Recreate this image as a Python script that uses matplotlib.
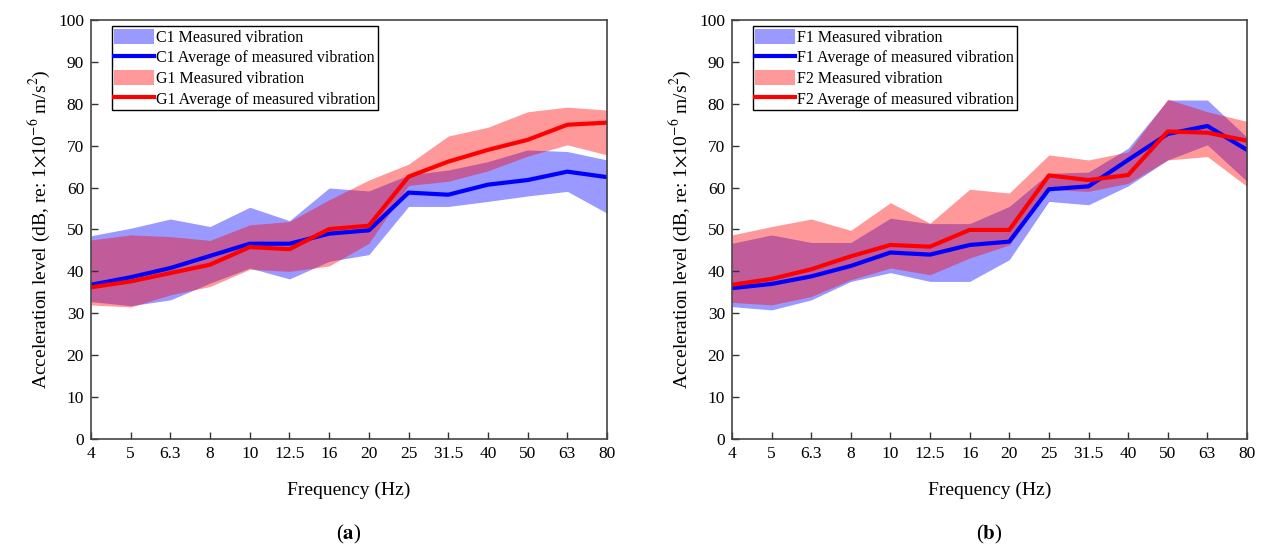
import matplotlib
matplotlib.use("Agg")
import matplotlib.pyplot as plt
import numpy as np

plt.rcParams["font.family"] = ["Liberation Serif", "DejaVu Serif"]
plt.rcParams["mathtext.fontset"] = "stix"


# -----------------------------
# DATA
# -----------------------------

freq_labels = ["4", "5", "6.3", "8", "10", "12.5", "16", "20",
               "25", "31.5", "40", "50", "63", "80"]

# (a) C1 / G1
c1_upper = [48.5, 50.3, 52.5, 50.7, 55.3, 52.1, 59.9, 59.2,
            63.0, 64.2, 66.2, 69.0, 68.6, 66.6]
c1_lower = [32.8, 31.8, 33.2, 37.2, 40.8, 38.2, 42.4, 44.0,
            55.5, 55.5, 56.7, 58.0, 59.1, 53.9]
c1_avg = [36.8, 38.6, 40.8, 43.7, 46.6, 46.6, 49.0, 49.8,
          58.8, 58.3, 60.7, 61.8, 63.8, 62.5]

g1_upper = [47.5, 48.7, 48.3, 47.4, 51.1, 51.9, 57.1, 61.8,
            65.6, 72.3, 74.4, 78.1, 79.2, 78.5]
g1_lower = [32.0, 31.5, 34.4, 36.4, 40.5, 40.0, 41.3, 46.7,
            60.5, 61.5, 64.0, 67.5, 70.2, 67.8]
g1_avg = [36.2, 37.6, 39.6, 41.6, 45.8, 45.3, 50.1, 50.9,
          62.6, 66.2, 69.0, 71.4, 75.0, 75.5]

# (b) F1 / F2
f1_upper = [46.7, 48.7, 46.9, 46.9, 52.7, 51.4, 51.4, 55.5,
            63.4, 63.7, 69.4, 80.9, 80.9, 72.0]
f1_lower = [31.6, 30.8, 33.2, 37.6, 39.7, 37.6, 37.6, 42.8,
            56.7, 55.9, 60.4, 66.6, 70.2, 61.5]
f1_avg = [36.0, 37.0, 38.8, 41.3, 44.5, 44.0, 46.3, 47.1,
          59.6, 60.3, 66.6, 72.8, 74.7, 69.0]

f2_upper = [48.7, 50.7, 52.5, 49.8, 56.4, 51.5, 59.6, 58.7,
            67.8, 66.6, 68.5, 81.1, 78.1, 75.8]
f2_lower = [32.6, 32.0, 34.0, 38.0, 40.8, 39.2, 43.2, 46.3,
            59.5, 59.1, 61.0, 66.6, 67.4, 60.3]
f2_avg = [36.8, 38.2, 40.5, 43.6, 46.3, 45.9, 49.9, 49.9,
          62.9, 61.8, 63.0, 73.4, 73.1, 71.2]


# -----------------------------
# FIGURE
# -----------------------------

fig = plt.figure(figsize=(12.62, 5.49), dpi=100)

ax_a = fig.add_axes([0.0721, 0.2004, 0.4089, 0.7632])
ax_b = fig.add_axes([0.5800, 0.2004, 0.4081, 0.7632])

x = np.arange(len(freq_labels))

panels = [
    (ax_a, "C1", "G1", c1_upper, c1_lower, c1_avg, g1_upper, g1_lower, g1_avg, "a"),
    (ax_b, "F1", "F2", f1_upper, f1_lower, f1_avg, f2_upper, f2_lower, f2_avg, "b"),
]

for ax, n1, n2, u1, l1, a1, u2, l2, a2, tag in panels:

    ax.fill_between(x, l1, u1, color="blue", alpha=0.4, linewidth=0,
                    label=n1 + " Measured vibration")
    ax.plot(x, a1, color="blue", linewidth=3,
            label=n1 + " Average of measured vibration")
    ax.fill_between(x, l2, u2, color="red", alpha=0.4, linewidth=0,
                    label=n2 + " Measured vibration")
    ax.plot(x, a2, color="red", linewidth=3,
            label=n2 + " Average of measured vibration")

    ax.set_xlim(0, len(freq_labels) - 1)
    ax.set_ylim(0, 100)
    ax.set_xticks(x)
    ax.set_xticklabels(freq_labels)
    ax.set_yticks(np.arange(0, 101, 10))

    ax.tick_params(direction="in", length=5, width=1, labelsize=12.5,
                   color="#333333", top=False, right=False, pad=5)

    for side in ax.spines.values():
        side.set_color("#444444")
        side.set_linewidth(1.2)

    ax.set_xlabel("Frequency (Hz)", fontsize=14, labelpad=14)
    ax.set_ylabel(r"Acceleration level (dB, re: 1$\times$10$^{-6}$ m/s$^2$)",
                  fontsize=14, labelpad=4)

    leg = ax.legend(loc="upper left", fontsize=11.5, frameon=True,
                    fancybox=False, edgecolor="black", framealpha=1,
                    handlelength=2.5, handleheight=1.1, handletextpad=0.15,
                    borderpad=0.15, labelspacing=0.22, borderaxespad=0.0,
                    bbox_to_anchor=(0.04, 0.985))
    leg.get_frame().set_linewidth(1.0)

    ax.text(0.5, -0.229, r"($\mathbf{" + tag + "}$)", transform=ax.transAxes,
            ha="center", va="center", fontsize=15)

fig.savefig("out.png", dpi=100)
plt.close(fig)
